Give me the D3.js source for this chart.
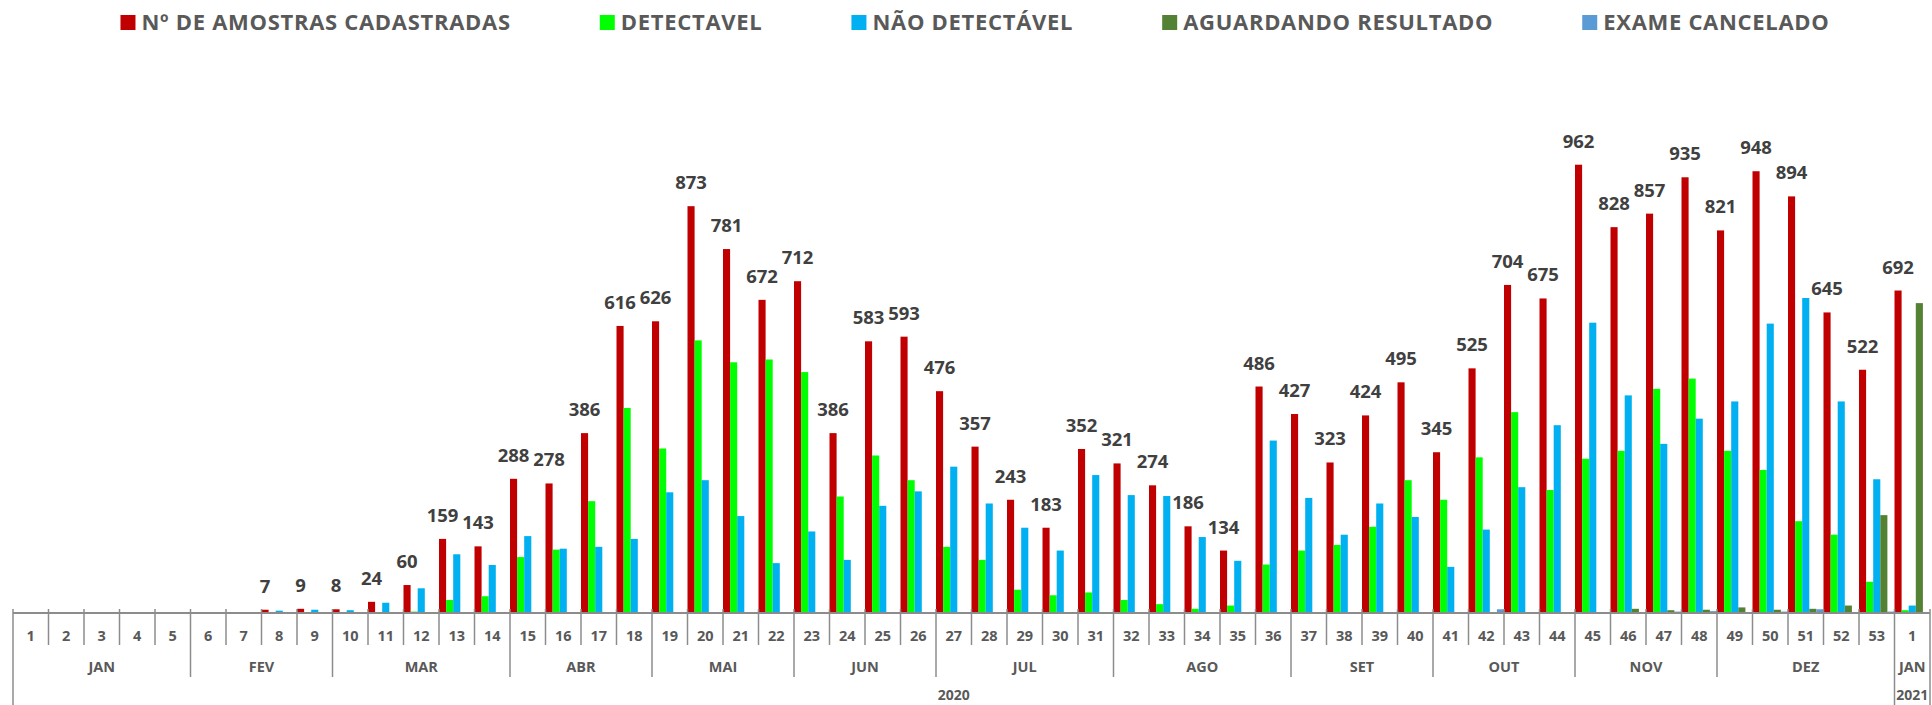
<!DOCTYPE html>
<html>
<head>
<meta charset="utf-8">
<script src="https://cdn.jsdelivr.net/npm/d3@7"></script>
<style>
  body { margin: 0; background: #fff; }
  text { font-family: "Open Sans", sans-serif; font-weight: bold; }
</style>
</head>
<body>
<main></main>
<script>
// weeks: 53 of 2020 then week 1 of 2021
let weeks = d3.range(1, 54).map(String).concat(["1"])

let months = ["JAN", "FEV", "MAR", "ABR", "MAI", "JUN", "JUL", "AGO", "SET", "OUT", "NOV", "DEZ", "JAN"]
let monthWeeks = [5, 4, 5, 4, 4, 4, 5, 5, 4, 4, 4, 5, 1]
let years = ["2020", "2021"]
let yearWeeks = [53, 1]

let cadastradas = [0, 0, 0, 0, 0, 1, 0, 7, 9, 8, 24, 60, 159, 143, 288, 278, 386, 616, 626, 873, 781, 672, 712, 386, 583, 593, 476, 357, 243, 183, 352, 321, 274, 186, 134, 486, 427, 323, 424, 495, 345, 525, 704, 675, 962, 828, 857, 935, 821, 948, 894, 645, 522, 692]
let detectavel = [0, 0, 0, 0, 0, 0, 0, 0, 0, 0, 0, 3, 28, 36, 120, 136, 240, 440, 353, 585, 538, 544, 517, 250, 338, 285, 142, 114, 50, 38, 44, 28, 19, 9, 16, 104, 134, 146, 185, 285, 243, 334, 431, 264, 331, 348, 481, 503, 348, 307, 197, 168, 67, 6]
let naoDetectavel = [0, 0, 0, 0, 0, 1, 0, 5, 7, 6, 22, 53, 126, 103, 165, 138, 142, 159, 259, 285, 208, 107, 175, 114, 230, 261, 314, 235, 183, 134, 296, 253, 251, 163, 112, 370, 247, 168, 235, 206, 99, 179, 270, 403, 623, 467, 363, 417, 454, 621, 676, 454, 287, 16]
let aguardando = [0, 0, 0, 0, 0, 0, 0, 0, 0, 0, 0, 0, 0, 0, 0, 0, 0, 0, 0, 0, 0, 0, 0, 0, 0, 0, 0, 0, 0, 0, 0, 0, 0, 0, 0, 0, 0, 0, 0, 0, 0, 0, 0, 0, 2, 9, 6, 7, 12, 7, 9, 16, 210, 665]
let cancelado = [0, 0, 0, 0, 0, 0, 0, 0, 0, 0, 0, 0, 0, 0, 0, 0, 0, 0, 0, 0, 0, 0, 0, 0, 0, 0, 0, 0, 0, 0, 0, 0, 0, 0, 0, 0, 0, 0, 0, 0, 0, 8, 0, 0, 1, 2, 3, 4, 2, 3, 8, 0, 3, 0]

let seriesNames = ["Nº DE AMOSTRAS CADASTRADAS", "DETECTAVEL", "NÃO DETECTÁVEL", "AGUARDANDO RESULTADO", "EXAME CANCELADO"]
let seriesColors = ["#C00000", "#00FF00", "#00B0F0", "#548235", "#5B9BD5"]
let series = [cadastradas, detectavel, naoDetectavel, aguardando, cancelado].map((values, i) => ({
    name: seriesNames[i], color: seriesColors[i], values: values, key: i
}))

let width = 1932, height = 705
let svg = d3.select('main').append('svg')
    .attr('width', width)
    .attr('height', height)

let x = d3.scaleBand()
    .domain(d3.range(weeks.length))
    .range([13, 1930])
    .padding(0)

let xs = d3.scaleBand()
    .domain(series.map(s => s.key))
    .range([0, x.bandwidth()])
    .padding(0)

let y = d3.scaleLinear()
    .domain([0, 1000])
    .range([613, 147])

// bars
let groups = svg.append('g').selectAll('g')
    .data(series)
    .join('g')
    .attr('fill', s => s.color)

groups.selectAll('rect')
    .data(s => s.values.map((v, i) => ({ v: v, i: i, k: s.key })))
    .join('rect')
    .attr('x', d => x(d.i) + xs(d.k))
    .attr('y', d => y(d.v))
    .attr('width', xs.bandwidth())
    .attr('height', d => y(0) - y(d.v))

// labels for the total series
svg.append('g').selectAll('text')
    .data(cadastradas.map((v, i) => ({ v: v, i: i })).filter(d => d.v > 1))
    .join('text')
    .attr('x', d => x(d.i) + xs(0) + xs.bandwidth() / 2)
    .attr('y', d => y(d.v) - 17)
    .attr('text-anchor', 'middle')
    .attr('font-size', 18.5)
    .attr('fill', '#404040')
    .text(d => d.v)

// axis
let axisColor = '#8C8C8C'
let axis = svg.append('g')

axis.append('line')
    .attr('x1', x.range()[0]).attr('x2', x.range()[1])
    .attr('y1', y(0)).attr('y2', y(0))
    .attr('stroke', axisColor).attr('stroke-width', 2)

let bounds = d3.range(weeks.length + 1).map(i => x.range()[0] + i * x.step())

axis.selectAll('.tick-week')
    .data(bounds)
    .join('line')
    .attr('class', 'tick-week')
    .attr('x1', d => d).attr('x2', d => d)
    .attr('y1', 609).attr('y2', 645)
    .attr('stroke', axisColor).attr('stroke-width', 1.5)

axis.selectAll('.lbl-week')
    .data(weeks)
    .join('text')
    .attr('class', 'lbl-week')
    .attr('x', (d, i) => x(i) + x.bandwidth() / 2)
    .attr('y', 641)
    .attr('text-anchor', 'middle')
    .attr('font-size', 14.5)
    .attr('fill', '#595959')
    .text(d => d)

// month row
let monthStart = d3.cumsum([0].concat(monthWeeks))
axis.selectAll('.tick-month')
    .data(monthStart)
    .join('line')
    .attr('class', 'tick-month')
    .attr('x1', d => bounds[d]).attr('x2', d => bounds[d])
    .attr('y1', 645).attr('y2', 677)
    .attr('stroke', axisColor).attr('stroke-width', 1.5)

axis.selectAll('.lbl-month')
    .data(months)
    .join('text')
    .attr('class', 'lbl-month')
    .attr('x', (d, i) => (bounds[monthStart[i]] + bounds[monthStart[i + 1]]) / 2)
    .attr('y', 672)
    .attr('text-anchor', 'middle')
    .attr('font-size', 14.5)
    .attr('fill', '#595959')
    .text(d => d)

// year row
let yearStart = d3.cumsum([0].concat(yearWeeks))
axis.selectAll('.tick-year')
    .data(yearStart)
    .join('line')
    .attr('class', 'tick-year')
    .attr('x1', d => bounds[d]).attr('x2', d => bounds[d])
    .attr('y1', 677).attr('y2', 705)
    .attr('stroke', axisColor).attr('stroke-width', 1.5)

axis.selectAll('.lbl-year')
    .data(years)
    .join('text')
    .attr('class', 'lbl-year')
    .attr('x', (d, i) => (bounds[yearStart[i]] + bounds[yearStart[i + 1]]) / 2)
    .attr('y', 700)
    .attr('text-anchor', 'middle')
    .attr('font-size', 14)
    .attr('fill', '#595959')
    .text(d => d)

// legend, laid out after measuring the texts
let legend = svg.append('g')
let items = legend.selectAll('g')
    .data(series)
    .join('g')

items.append('rect')
    .attr('width', 15).attr('height', 15)
    .attr('y', 15)
    .attr('fill', s => s.color)

items.append('text')
    .attr('x', 21)
    .attr('y', 30)
    .attr('font-size', 22)
    .attr('letter-spacing', 0.7)
    .attr('fill', '#595959')
    .text(s => s.name)

let widths = []
items.selectAll('text').each(function () { widths.push(21 + this.getComputedTextLength()) })
let gap = 89
let total = d3.sum(widths) + gap * (widths.length - 1)
let cx = 975 - total / 2
items.attr('transform', (s, i) => {
    let pos = cx + d3.sum(widths.slice(0, i)) + gap * i
    return `translate(${pos},0)`
})
</script>
</body>
</html>
